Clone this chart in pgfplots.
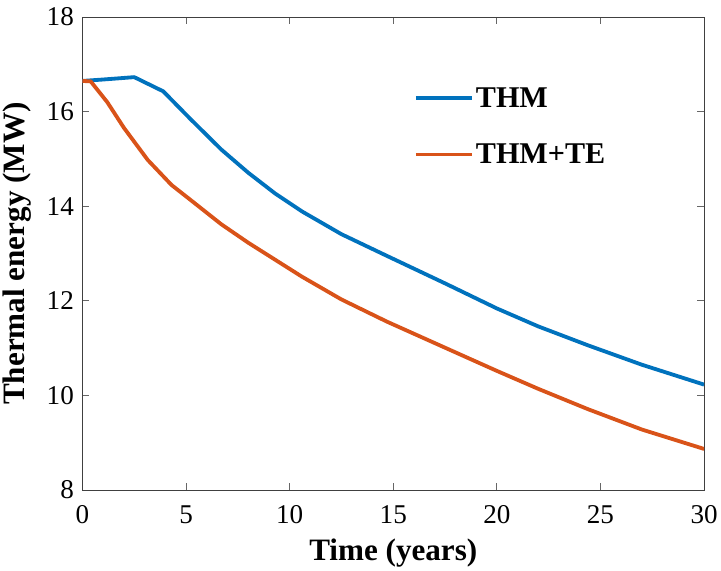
\documentclass[border=0pt]{standalone}
\usepackage{pgfplots}
\pgfplotsset{compat=1.18}
\usepackage{fontspec}
\setmainfont{Liberation Serif}

\definecolor{thmblue}{RGB}{0,114,189}
\definecolor{teorange}{RGB}{217,83,25}

\begin{document}
\begin{tikzpicture}
\begin{axis}[
  scale only axis,
  width=619pt, height=471pt,
  xmin=0, xmax=30, ymin=8, ymax=18,
  xtick={0,5,...,30}, ytick={8,10,...,18},
  /pgf/number format/assume math mode=true,
  tick label style={font=\fontsize{27}{32}\selectfont},
  xticklabel style={yshift=-12pt},
  yticklabel style={xshift=-5pt},
  xlabel={\textbf{Time (years)}},
  ylabel={\textbf{Thermal energy (MW)}},
  label style={font=\fontsize{31}{37}\selectfont},
  xlabel style={yshift=-8pt},
  ylabel style={yshift=8pt},
  axis line style={draw=black!75, line width=0.8pt},
  tick style={draw=black!60, line width=0.8pt},
  major tick length=7pt,
  tick align=inside,
  % a little white space above the frame
  extra description/.code={\path (rel axis cs:0,1) ++(0pt,17pt);},
  legend style={draw=none, fill=none, at={(0.528,0.86)}, anchor=north west,
    font=\fontsize{30}{36}\selectfont\bfseries, row sep=31pt},
  legend cell align=left,
  legend image code/.code={\draw[#1] (0pt,0pt) -- (56pt,0pt);},
]
\addplot[color=thmblue, line width=3.8pt, line join=round] coordinates {
  (0,16.65) (1,16.68) (2.5,16.73) (3.9,16.43) (5.2,15.85) (6.7,15.2)
  (8,14.71) (9.3,14.27) (10.6,13.89) (12.5,13.41) (14.7,12.95)
  (17.5,12.37) (20,11.84) (22,11.46) (24.4,11.06) (27,10.65) (30,10.23)
};
\addlegendentry{THM}
\addplot[color=teorange, line width=3.8pt, line join=round] coordinates {
  (0,16.65) (0.4,16.64) (1.2,16.2) (2,15.66) (3.15,14.98) (4.3,14.45)
  (5.2,14.14) (6.7,13.62) (8,13.23) (9.3,12.87) (10.6,12.51) (12.5,12.03)
  (14.7,11.56) (17.5,11.01) (20,10.52) (22,10.14) (24.4,9.71) (27,9.28)
  (30,8.87)
};
\addlegendentry{THM+TE}
\end{axis}
\end{tikzpicture}
\end{document}
